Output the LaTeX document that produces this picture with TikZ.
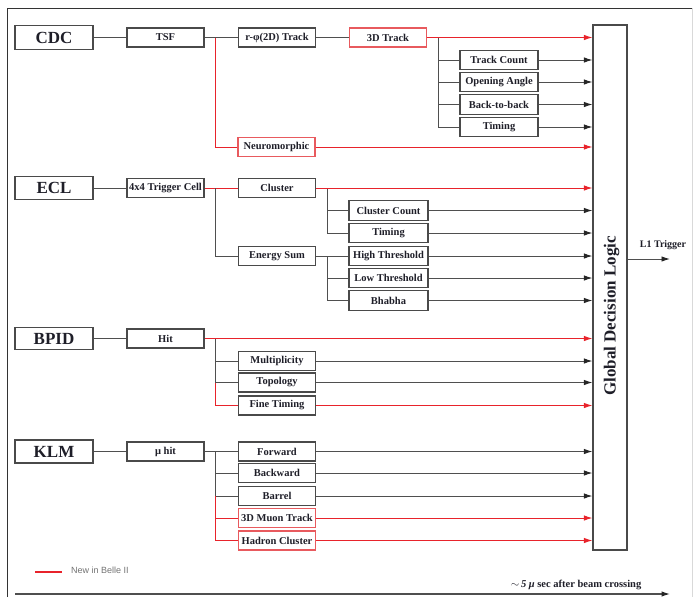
\documentclass[tikz,border=0pt]{standalone}
\usepackage{fontspec}
\setmainfont{Liberation Serif}
\newfontfamily\legendfont{Liberation Sans}
\usetikzlibrary{arrows.meta}
\definecolor{rd}{HTML}{E8232B}
\definecolor{rb}{HTML}{E85A5E}
\definecolor{bd}{HTML}{4A4A4A}
\definecolor{ln}{HTML}{4F4F4F}
\definecolor{tx}{HTML}{1E1E28}
\begin{document}
\begin{tikzpicture}[x=1pt,y=-1pt,
 box/.style={draw=bd, line width=1.2pt, minimum width=77pt, minimum height=19pt, inner sep=0pt, font=\bfseries\fontsize{10.5}{12}\selectfont, text=tx},
 sbox/.style={box, minimum width=78pt, minimum height=19.5pt},
 ebox/.style={box, minimum width=79pt, minimum height=19.5pt},
 rbox/.style={box, draw=rb},
 det/.style={draw=bd, line width=1.3pt, minimum width=78pt, minimum height=23pt, inner sep=0pt, font=\bfseries\fontsize{17}{20}\selectfont, text=tx},
 gl/.style={draw=ln, line width=0.95pt},
 rl/.style={draw=rd, line width=0.95pt},
 ga/.style={gl, -{Latex[length=8.5pt,width=5.5pt,color=black!85]}},
 ra/.style={rl, -{Latex[length=8.5pt,width=5.5pt]}},
]
\useasboundingbox (0,0) rectangle (693,597);
% frame
\draw[black!80, line width=1pt] (7,597) -- (7,8) -- (692,8);
\draw[black!15, line width=0.8pt] (692,8) -- (692,597);

% Global Decision Logic
\node[draw=bd, line width=1.2pt, minimum width=34pt, minimum height=525pt, inner sep=0pt] (gdl) at (610,287.5) {};
\node[rotate=90, font=\bfseries\fontsize{17}{20}\selectfont, text=tx] (gdlt) at (611.5,316) {Global Decision Logic};

% CDC
\node[det, minimum height=24pt] (cdc) at (54,37.5) {CDC};
\node[box] (tsf) at (165.5,37.5) {TSF};
\node[box] (rphi) at (277,37.5) {r-φ(2D) Track};
\node[rbox] (td) at (388,37.5) {3D Track};
\node[sbox] (tcnt) at (499,60) {Track Count};
\node[sbox] (oang) at (499,82) {Opening Angle};
\node[sbox] (btb) at (499,104.5) {Back-to-back};
\node[sbox] (tim1) at (499,127) {Timing};
\node[rbox] (neuro) at (276.5,147) {Neuromorphic};

\draw[gl] (cdc.east) -- (tsf.west);
\draw[gl] (tsf.east) -- (rphi.west);
\draw[gl] (rphi.east) -- (td.west);
\coordinate (cb1) at ([xshift=11pt]tsf.east);
\draw[rl] (cb1) |- (neuro.west);
\coordinate (cb2) at ([xshift=11pt]td.east);
\draw[gl] (cb2) |- (tcnt.west);
\draw[gl] (cb2) |- (oang.west);
\draw[gl] (cb2) |- (btb.west);
\draw[gl] (cb2) |- (tim1.west);
\draw[ra] (td.east) -- (td.east -| gdl.west);
\draw[ga] (tcnt.east) -- (tcnt.east -| gdl.west);
\draw[ga] (oang.east) -- (oang.east -| gdl.west);
\draw[ga] (btb.east) -- (btb.east -| gdl.west);
\draw[ga] (tim1.east) -- (tim1.east -| gdl.west);
\draw[ra] (neuro.east) -- (neuro.east -| gdl.west);

% ECL
\node[det] (ecl) at (54,188) {ECL};
\node[box] (cell) at (165.5,188) {4x4 Trigger Cell};
\node[box] (clus) at (277,188) {Cluster};
\node[ebox] (ccnt) at (388.5,210.5) {Cluster Count};
\node[ebox] (tim2) at (388.5,233) {Timing};
\node[box] (esum) at (277,256) {Energy Sum};
\node[ebox] (hthr) at (388.5,256) {High Threshold};
\node[ebox] (lthr) at (388.5,278) {Low Threshold};
\node[ebox] (bhab) at (388.5,300.5) {Bhabha};

\draw[gl] (ecl.east) -- (cell.west);
\draw[rl] (cell.east) -- (clus.west);
\coordinate (eb1) at ([xshift=11pt]cell.east);
\draw[gl] (eb1) |- (esum.west);
\coordinate (eb2) at ([xshift=11pt]clus.east);
\draw[gl] (eb2) |- (ccnt.west);
\draw[gl] (eb2) |- (tim2.west);
\draw[gl] (esum.east) -- (hthr.west);
\coordinate (eb3) at ([xshift=11pt]esum.east);
\draw[gl] (eb3) |- (lthr.west);
\draw[gl] (eb3) |- (bhab.west);
\draw[ra] (clus.east) -- (clus.east -| gdl.west);
\draw[ga] (ccnt.east) -- (ccnt.east -| gdl.west);
\draw[ga] (tim2.east) -- (tim2.east -| gdl.west);
\draw[ga] (hthr.east) -- (hthr.east -| gdl.west);
\draw[ga] (lthr.east) -- (lthr.east -| gdl.west);
\draw[ga] (bhab.east) -- (bhab.east -| gdl.west);

% BPID
\node[det, minimum height=22pt] (bpid) at (54,338.5) {BPID};
\node[box] (hit) at (165.5,338.5) {Hit};
\node[box] (mult) at (277,361) {Multiplicity};
\node[box] (topo) at (277,382.5) {Topology};
\node[box] (fine) at (277,405.5) {Fine Timing};

\draw[gl] (bpid.east) -- (hit.west);
\coordinate (bb1) at ([xshift=11pt]hit.east);
\draw[gl] (bb1) |- (mult.west);
\draw[gl] (bb1) |- (topo.west);
\draw[rl] (bb1 |- topo.west) |- (fine.west);
\draw[ra] (hit.east) -- (hit.east -| gdl.west);
\draw[ga] (mult.east) -- (mult.east -| gdl.west);
\draw[ga] (topo.east) -- (topo.east -| gdl.west);
\draw[ra] (fine.east) -- (fine.east -| gdl.west);

% KLM
\node[det] (klm) at (54,451.5) {KLM};
\node[box] (muhit) at (165.5,451.5) {μ hit};
\node[box] (fwd) at (277,451.5) {Forward};
\node[box] (bwd) at (277,473) {Backward};
\node[box] (bar) at (277,496) {Barrel};
\node[rbox] (muon) at (277,518) {3D Muon Track};
\node[rbox] (hadr) at (277,540.5) {Hadron Cluster};

\draw[gl] (klm.east) -- (muhit.west);
\draw[gl] (muhit.east) -- (fwd.west);
\coordinate (kb1) at ([xshift=11pt]muhit.east);
\draw[gl] (kb1) |- (bwd.west);
\draw[gl] (kb1) |- (bar.west);
\draw[rl] (kb1 |- bar.west) |- (muon.west);
\draw[rl] (kb1 |- bar.west) |- (hadr.west);
\draw[ga] (fwd.east) -- (fwd.east -| gdl.west);
\draw[ga] (bwd.east) -- (bwd.east -| gdl.west);
\draw[ga] (bar.east) -- (bar.east -| gdl.west);
\draw[ra] (muon.east) -- (muon.east -| gdl.west);
\draw[ra] (hadr.east) -- (hadr.east -| gdl.west);

% L1 trigger
\node[font=\bfseries\fontsize{10}{11}\selectfont, text=tx] (l1) at (663,245) {L1 Trigger};
\coordinate (l1end) at (670,259);
\draw[ga] (gdl.east |- l1end) -- (l1end);

% legend
\coordinate (lg0) at (35,572);
\coordinate (lg1) at (62,572);
\draw[rd, line width=2pt] (lg0) -- (lg1);
\node[anchor=west, font=\legendfont\fontsize{9}{11}\selectfont, text=black!55, inner sep=0pt] (lgt) at (71,570.5) {New in Belle II};

% time axis
\coordinate (t0) at (15,594);
\coordinate (t1) at (670,594);
\draw[ga, line width=1.2pt] (t0) -- (t1);
\node[font=\bfseries\fontsize{10.5}{12}\selectfont, text=tx] (tlab) at (576,585) {$\sim$\,{\itshape 5 μ} sec after beam crossing};
\end{tikzpicture}
\end{document}
